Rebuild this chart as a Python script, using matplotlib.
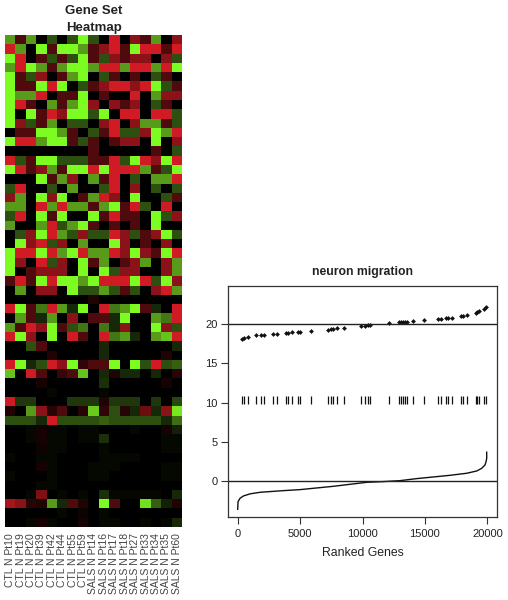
import matplotlib
matplotlib.use("Agg")
import matplotlib.pyplot as plt
from matplotlib.colors import LinearSegmentedColormap

plt.rcParams['font.family'] = ['Liberation Sans', 'DejaVu Sans']

sample_labels = ["CTL N Pt10", "CTL N Pt19", "CTL N Pt20", "CTL N Pt39", "CTL N Pt42", "CTL N Pt44",
                 "CTL N Pt55", "CTL N Pt59", "SALS N Pt14", "SALS N Pt16", "SALS N Pt17", "SALS N Pt18",
                 "SALS N Pt27", "SALS N Pt33", "SALS N Pt34", "SALS N Pt35", "SALS N Pt60"]

# Levels: 3 bright green ... 0 black ... -3 bright red
heat_rows = [
    [2, -1, 2, 0, 1, 0, 1, 3, 1, 0, -3, 0, -2, -1, 2, 0, -2],
    [-3, 2, 0, 3, -1, 3, 3, 2, -1, -2, -3, -1, 3, -3, -3, -1, -3],
    [3, -3, 0, -1, 1, -1, 1, 3, -1, 1, -2, -1, -2, -2, 0, -2, 1],
    [2, -3, 3, 2, -1, 2, 3, 3, 2, -3, -3, 2, -3, -3, 2, -3, 3],
    [3, -1, 1, -2, 0, -1, 2, 3, 0, 1, -1, 0, -1, 0, 1, -1, 0],
    [3, -1, -1, 3, -3, 3, 0, 1, -1, -2, -3, -3, -2, -3, 3, 1, -1],
    [3, 2, 2, -3, 0, -1, -1, 3, 0, -1, 0, 0, -3, 0, 2, -2, -2],
    [3, -3, -1, 0, 2, -1, 2, 3, -2, 0, -2, -1, -2, 0, 1, -1, 0],
    [3, 0, 3, -1, -3, -2, 3, 3, 1, 3, 0, -3, -3, 0, -3, -3, 1],
    [3, -2, 1, -1, 2, 0, 1, 1, 0, -2, -3, 0, -2, 2, 2, -1, 1],
    [0, -1, -1, 3, 3, 2, -1, 0, 1, -1, -3, 1, 1, -2, 3, 2, -3],
    [3, -3, -3, 2, 3, 3, -1, 1, -1, 0, -1, -2, -2, 0, 3, 0, -2],
    [0, 0, 0, 0, 0, 0, 0, 0, -1, 0, 0, 0, 0, 0, -1, 0, 1],
    [-3, 1, -1, 3, 3, 1, 1, 1, -1, -1, -3, 1, 3, -3, -2, 3, -3],
    [3, -3, -1, -2, 2, -1, 3, 3, -3, 3, -3, -3, -3, 2, -1, 1, 3],
    [0, 0, 0, 3, -1, 2, -2, 0, 2, -1, -3, 0, 1, 0, 2, 2, -3],
    [1, -3, 0, 0, 1, 0, 2, 0, 0, 1, -3, 0, -2, 0, 1, 0, 1],
    [-2, 2, 0, 3, -2, 3, 0, -1, 2, -3, -2, 0, 3, 0, 0, 1, -1],
    [2, 2, 0, -3, 2, -3, 2, 2, -1, 2, 3, -1, -3, 1, 0, -3, 0],
    [1, -3, 0, 3, -1, 3, 0, 0, 3, -1, -3, -1, -1, 0, 3, 1, -2],
    [2, 0, 0, 2, -3, 1, 2, 3, -1, 0, -1, 0, -1, 0, 3, 0, 0],
    [0, 1, -2, 3, -3, 2, 1, -2, 1, 1, -3, -2, 1, -1, -2, 3, 1],
    [0, 3, -2, -3, 1, -2, 0, 2, 0, 0, 3, -2, 0, -1, 0, -2, 0],
    [3, -3, -3, 3, -3, 2, 3, -3, 2, 2, -3, -2, 3, -2, -1, 3, -3],
    [3, -2, 0, -3, 1, -2, 0, 3, -1, 2, 0, -1, -2, 2, 0, -2, 2],
    [3, 0, -1, -2, -2, -2, 0, 3, 0, 3, 1, -2, -2, 0, 0, -2, 2],
    [-1, -3, -1, 3, -3, 3, 3, 2, 3, -3, -3, -3, 3, -3, 1, 3, -2],
    [0, 2, 0, -2, -2, 0, 3, 1, 1, 2, 1, -1, 1, 0, -2, -3, 2],
    [0, 0, 0, 0, 0, 0, 0, 0, -0.4, 0, 0, 0, 0, 0, 0, 0, 0],
    [-3, 3, -1, 1.5, -3, 2, 0.5, 3, 0, -3, 1.5, 2, 3, -1, 0.5, 0, -3],
    [0, 2, -1, 0.5, 2, 0, -2, 0, -1, -1, 0.5, 3, 0, 0, 2, 1.5, -3],
    [2, -1, -3, -2, 3, -1, 1, 1.5, 0, 1.5, 0.5, -2, 0, 0, 3, -2, 1],
    [-3, 3, -2, 0, 3, 0, -3, -1, 0, -3, 1.5, 2, 0.5, 0, 2, 2.4, -3],
    [0, 0, 1, -1, 0, 0, 0, 0, 0, 0.5, 0, 0, 0, 0, 0, 0, 0.5],
    [0, 0, 0, 0, -0.4, 0, 0, 0, 0, 0.5, 0, 0, 0, 0, 0, -0.4, 0],
    [-3, 3, 0.5, 1, -3, -2, 3, -0.6, -1, -1, 3, 0, 3, 1, -3, 1, 1.2],
    [2.4, 0, -3, -1, 0, -0.7, -1, 2.4, 0, 0.5, -0.4, 0.5, 0.5, 0, 0.5, 0, -0.5],
    [0, 0, 0, -0.3, 0, 0, 0, 0, 0, 0.6, 0, 0, 0, 0, 0, -0.3, 0],
    [0, 0, 0, 0, 0.1, 0, 0, 0, 0, 0.1, 0, 0, 0, 0, 0, 0, 0],
    [-3, 0.7, 0.7, 0, 0, 0, 0.7, 0.7, 0.7, -0.4, 0.7, 0.7, 0.7, 0, 0.7, 0, 0.9],
    [-0.4, 0, 2, -2, -0.5, -1, 0, -0.5, 2.5, -0.6, 1, -0.5, 0.5, -1.5, 0.5, -2, 2.8],
    [1, 1, 1, 0.5, -3, 1, 1, 1, 1, 1.2, 1, 1, 1, 1, 1, 0.5, 1.4],
    [0, 0, 0.1, -0.3, 0.1, 0.1, 0, 0.1, 0.1, 0, 0, 0, 0.1, 0, 0, -0.3, 0.4],
    [0, 0, 0.1, -0.3, 0.1, 0.1, 0, 0.1, 0.1, 0.6, 0, 0, 0, 0, 0, 0.1, 0.1],
    [0, 0, 0, -0.2, 0.1, 0.1, 0, 0, 0, 0.1, 0, 0, 0, 0, 0, 0.1, 0.1],
    [0.1, 0, 0, 0.1, 0.1, 0, 0, 0, 0, 0.1, 0.1, 0.1, 0.1, 0, 0, 0, 0],
    [0, 0, 0, -0.3, 0.1, 0, 0, 0, 0.1, 0.1, 0.1, 0, 0, 0, 0, 0.1, 0.1],
    [0.1, 0, 0, 0, 0.1, 0, 0, 0, 0.1, 0.1, 0, 0, 0, 0, 0, 0.1, 0.1],
    [0, 0, 0, 0.1, 0.1, 0, 0, 0, 0, 0, 0, 0, 0, 0, 0, 0, 0],
    [0, 0, 0.1, -1.8, 0, 0.1, 0, 0.1, 0, 0.6, 0.1, 0.1, 0.1, 0.1, 0.1, 0, 0.5],
    [-2.4, -2, -0.5, -0.4, 2, 0.5, -1, -0.4, 0, 3, -1, 0, 0, 2.7, 1.2, 0.4, -0.4],
    [0, 0, 0, 0, 0, 0.1, 0, -0.2, 0, 0.1, 0, 0, 0, 0, 0, 0, 0],
    [0, 0, 0.1, -0.3, 0.1, 0, 0, -0.3, 0, 0.1, 0.1, 0, 0, 0.1, 0, 0.1, 0.5],
]

ranks_all = [0, 27, 187, 454, 988, 1790, 3659, 4995, 7666, 10337, 11672, 13008,
             14343, 15690, 17014, 18350, 19151, 19551, 19818, 19900, 19950, 19950]
metric_all = [-3.56, -2.6, -2.16, -1.87, -1.6, -1.4, -1.19, -1.06, -0.64, -0.13, -0.04, 0.08,
              0.34, 0.55, 0.76, 1.02, 1.31, 1.65, 2.08, 2.5, 2.9, 3.7]

set_ranks = [318, 531, 852, 1466, 1840, 2107, 2855, 3176, 3843, 4057, 4324, 4858, 4992, 5873,
             7262, 7449, 7610, 7984, 8518, 9880, 10200, 10468, 10601, 12097, 12952, 13112,
             13272, 13406, 13540, 14020, 14955, 16023, 16264, 16691, 16878, 17145, 17866,
             18080, 18347, 19095, 19201, 19361, 19735, 19895]
set_scores = [18.05, 18.26, 18.39, 18.56, 18.60, 18.64, 18.73, 18.77, 18.86, 18.90, 18.94, 18.94,
              18.94, 19.11, 19.28, 19.36, 19.41, 19.49, 19.53, 19.75, 19.79, 19.83, 19.87, 20.08,
              20.21, 20.21, 20.25, 20.25, 20.25, 20.34, 20.47, 20.64, 20.68, 20.72, 20.76, 20.81,
              20.98, 21.06, 21.14, 21.40, 21.48, 21.61, 21.95, 22.2]

x_ticks = [0, 5000, 10000, 15000, 20000]
y_ticks = [0, 5, 10, 15, 20]
W, H = 508, 600


def px_axes(left, top, right, bottom):
    return [left / W, 1 - bottom / H, (right - left) / W, (bottom - top) / H]


fig = plt.figure(figsize=(W / 100, H / 100), dpi=100, facecolor='white')

# Heatmap
cmap = LinearSegmentedColormap.from_list('gr', [(0.0, '#D01A24'), (1 / 6, '#8A1218'), (2 / 6, '#4E0A0C'), (0.5, '#000000'),
                                                (4 / 6, '#2D5010'), (5 / 6, '#589A1A'), (1.0, '#7CFC20')])
ax_h = fig.add_axes(px_axes(5, 35, 182, 527))
ax_h.imshow(heat_rows, cmap=cmap, vmin=-3, vmax=3, aspect='auto', interpolation='nearest')
ax_h.set_xticks(range(len(sample_labels)))
ax_h.set_xticklabels(sample_labels, rotation=90, fontsize=7.5, color='#444444', ha='center', va='top')
ax_h.tick_params(axis='x', length=0, pad=4.5)
ax_h.set_yticks([])
for s in ax_h.spines.values():
    s.set_visible(False)
fig.text(94 / W, 1 - 19.5 / H, "Gene Set\nHeatmap", ha='center', va='center', fontsize=9.5,
         fontweight='bold', color='#222222', linespacing=1.45)

# Ranked gene plot
ax = fig.add_axes(px_axes(228.3, 286, 497.3, 517.3))
ax.plot(ranks_all, metric_all, color='#111111', lw=1.0)
ax.axhline(0, color='#222222', lw=1)
ax.axhline(20, color='#222222', lw=1)
ax.scatter(set_ranks, set_scores, s=6, marker='D', color='#111111', linewidths=0)
ax.vlines(set_ranks, 9.85, 10.9, color='#111111', lw=0.9)
ax.set_xlim(-753, 20800)
ax.set_ylim(-4.58, 24.83)
ax.set_xticks(x_ticks)
ax.set_yticks(y_ticks)
ax.tick_params(axis='x', length=5, width=0.8, pad=3.5, labelsize=8, color='#333333', labelcolor='#222222')
ax.tick_params(axis='y', length=5.3, width=0.8, pad=2.5, labelsize=8, color='#333333', labelcolor='#222222')
for s in ax.spines.values():
    s.set_linewidth(0.9)
    s.set_color('#333333')
ax.set_xlabel("Ranked Genes", fontsize=8.8, color='#222222', labelpad=6)
fig.text(362 / W, 1 - 272 / H, "neuron migration", ha='center', va='center', fontsize=8.8,
         fontweight='bold', color='#222222')

fig.savefig('out.png', dpi=100, facecolor='white')
